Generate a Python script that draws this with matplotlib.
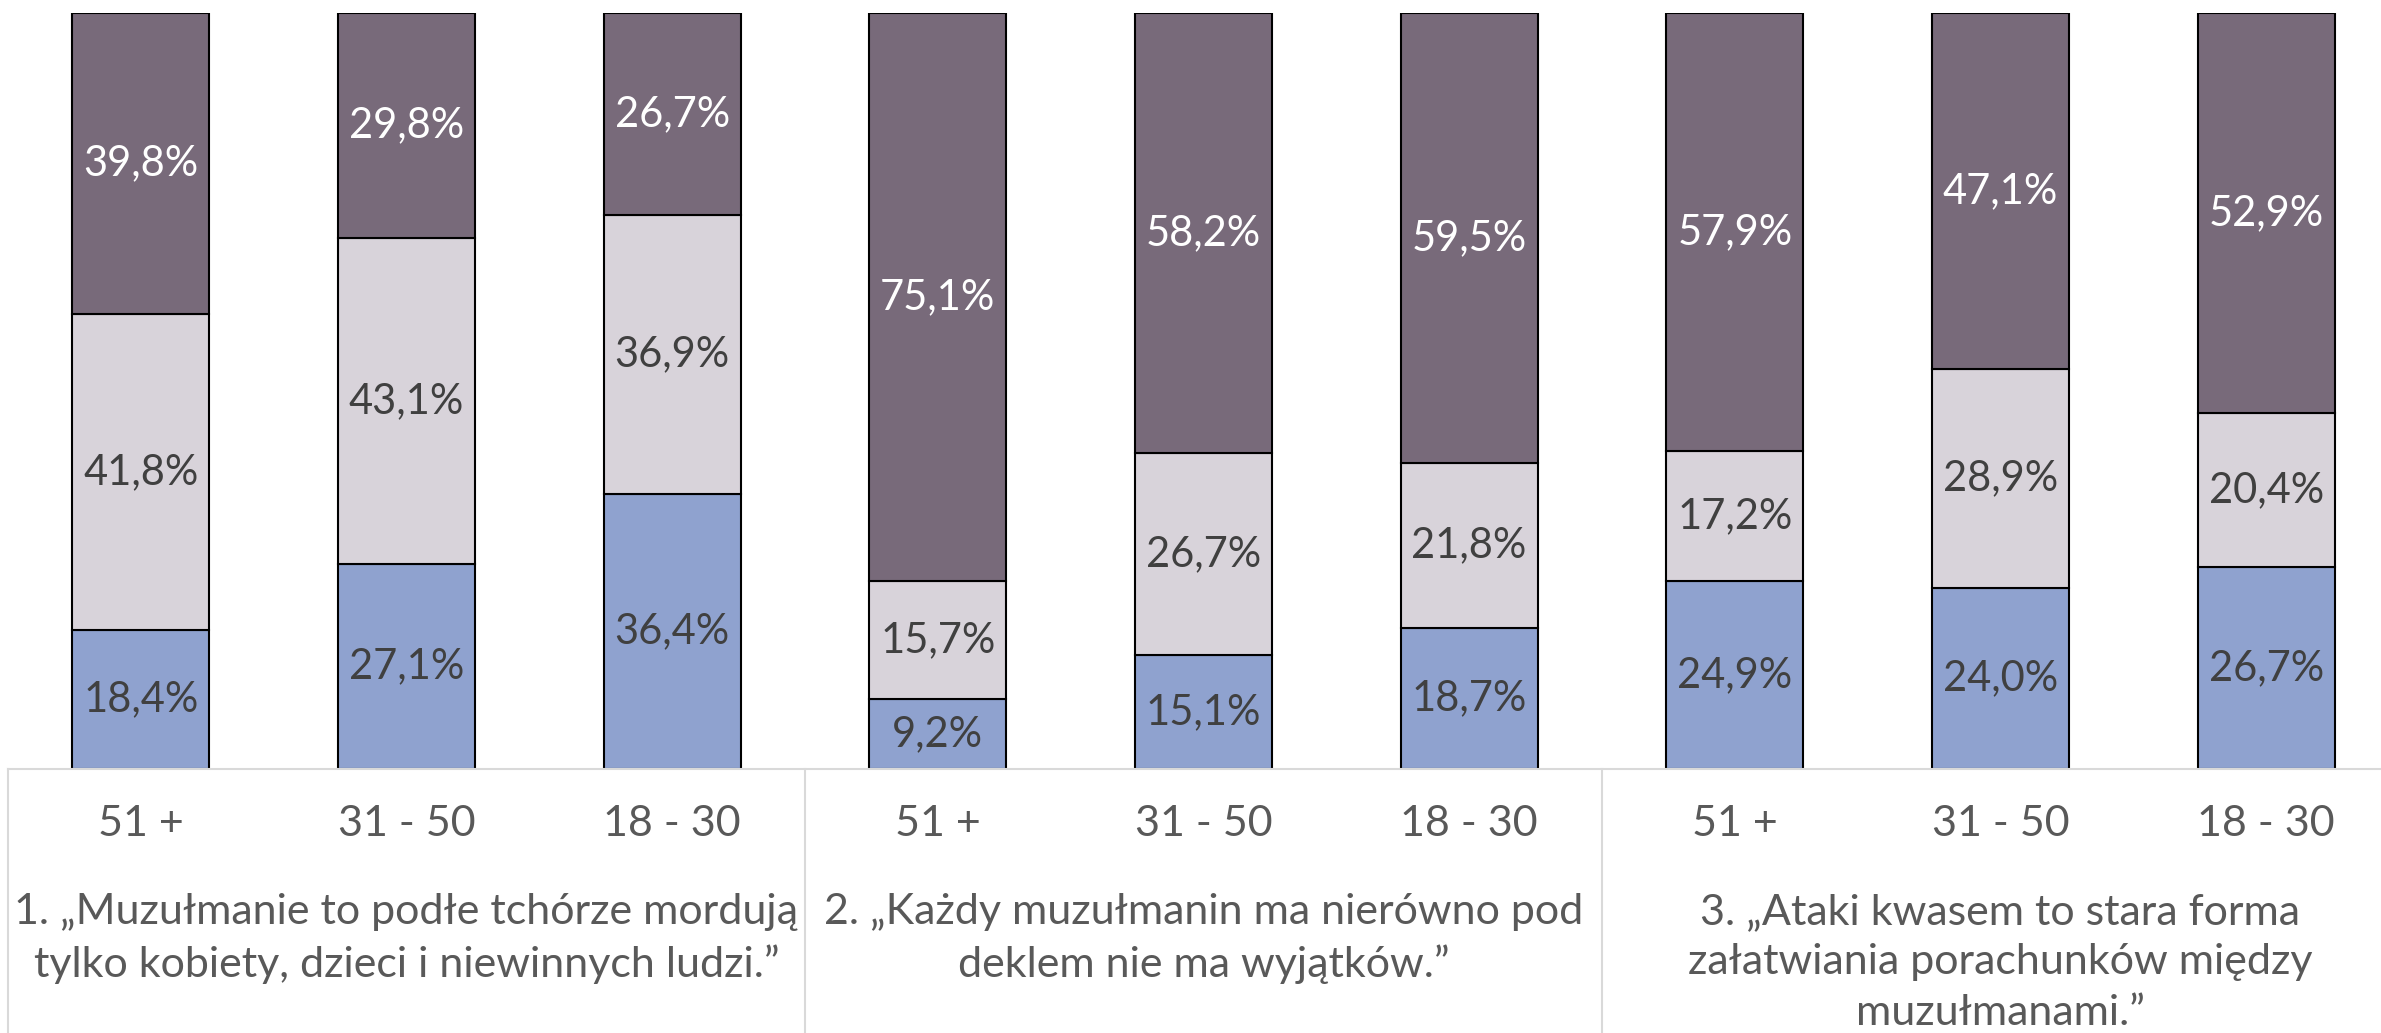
import matplotlib
matplotlib.use("Agg")
import matplotlib.pyplot as plt
import numpy as np

ages = ["51 +", "31 - 50", "18 - 30"]
statements = [
    "1. \u201eMuzułmanie to podłe tchórze mordują\ntylko kobiety, dzieci i niewinnych ludzi.\u201d",
    "2. \u201eKażdy muzułmanin ma nierówno pod\ndeklem nie ma wyjątków.\u201d",
    "3. \u201eAtaki kwasem to stara forma\nzałatwiania porachunków między\nmuzułmanami.\u201d",
]
blue_vals = [18.4, 27.1, 36.4, 9.2, 15.1, 18.7, 24.9, 24.0, 26.7]
light_vals = [41.8, 43.1, 36.9, 15.7, 26.7, 21.8, 17.2, 28.9, 20.4]
dark_vals = [39.8, 29.8, 26.7, 75.1, 58.2, 59.5, 57.9, 47.1, 52.9]

plt.rcParams['font.family'] = ['Lato', 'DejaVu Sans']

W, H = 2381, 1033
fig = plt.figure(figsize=(W / 100, H / 100), dpi=100)
left_px, right_px, top_px, bot_px = 8, 2399, 13, 769
ax = fig.add_axes([left_px / W, 1 - bot_px / H, (right_px - left_px) / W, (bot_px - top_px) / H])

x = np.arange(len(blue_vals))
bw = 0.516
c_blue, c_light, c_dark = "#8FA2CF", "#D8D3DA", "#786A7A"
blue = np.array(blue_vals); light = np.array(light_vals); dark = np.array(dark_vals)
ax.bar(x, blue, bw, color=c_blue, edgecolor="black", linewidth=1.5, zorder=2)
ax.bar(x, light, bw, bottom=blue, color=c_light, edgecolor="black", linewidth=1.5, zorder=2)
ax.bar(x, dark, bw, bottom=blue + light, color=c_dark, edgecolor="black", linewidth=1.5, zorder=2)

fs = 30
def fmt(v):
    return f"{v:.1f}".replace(".", ",") + "%"
for i in range(len(x)):
    ax.text(x[i], blue[i] / 2, fmt(blue[i]), ha="center", va="center", fontsize=fs, color="#404040", zorder=3)
    ax.text(x[i], blue[i] + light[i] / 2, fmt(light[i]), ha="center", va="center", fontsize=fs, color="#404040", zorder=3)
    ax.text(x[i], blue[i] + light[i] + dark[i] / 2, fmt(dark[i]), ha="center", va="center", fontsize=fs, color="white", zorder=3)

ax.set_xlim(-0.5, len(x) - 0.5)
ax.set_ylim(0, 100)
ax.set_yticks([])
ax.set_xticks(x)
ax.set_xticklabels(ages * 3, fontsize=31, color="#595959")
ax.tick_params(axis="x", length=0, pad=26)
for s in ["top", "left", "right"]:
    ax.spines[s].set_visible(False)
ax.spines["bottom"].set_color("#D9D9D9")
ax.spines["bottom"].set_linewidth(1.5)

# group separators
for b in [-0.5, 2.5, 5.5, 8.5]:
    ax.plot([b, b], [0, -0.5], transform=ax.get_xaxis_transform(), color="#D9D9D9",
            linewidth=1.5, clip_on=False)

for g, txt in enumerate(statements):
    ax.annotate(txt, xy=(g * 3 + 1, 0), xycoords=("data", "axes fraction"),
                xytext=(0, -124), textcoords="offset pixels", ha="center", va="top",
                fontsize=31, color="#595959", linespacing=1.4, annotation_clip=False)

fig.savefig("out.png", dpi=100)
